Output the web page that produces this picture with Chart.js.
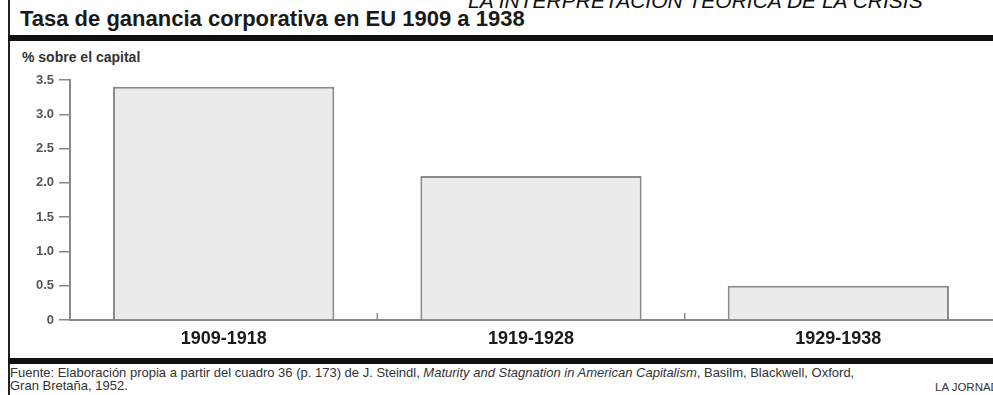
<!DOCTYPE html>
<html>
<head>
<meta charset="utf-8">
<script src="https://cdn.jsdelivr.net/npm/chart.js@4"></script>
<style>
  html, body { margin: 0; padding: 0; background: #fff; }
  #wrap { position: relative; width: 993px; height: 395px; overflow: hidden; background: #fff; font-family: "Liberation Sans", Arial, sans-serif; color: #111; }
  .abs { position: absolute; white-space: nowrap; line-height: 1; }
  #kicker { left: 468px; top: -10px; font-size: 21px; font-style: italic; color: #111; }
  #leftline { left: 8px; top: 0; width: 2px; height: 395px; background: #222; }
  #title { left: 20px; top: 8px; font-size: 22px; font-weight: bold; color: #1a1a1a; }
  #toprule { left: 8px; top: 35px; width: 985px; height: 6px; background: #111; }
  #unit { left: 22px; top: 50px; font-size: 14px; font-weight: bold; color: #333; }
  #chartbox { position: absolute; left: 0; top: 60px; width: 993px; height: 290px; }
  #botrule { left: 8px; top: 358px; width: 985px; height: 6px; background: #111; }
  #source { left: 10px; top: 366px; font-size: 13px; line-height: 13px; color: #333; }
  #brand { left: 935px; top: 382px; font-size: 11.5px; color: #333; }
</style>
</head>
<body>
<div id="wrap">
  <div class="abs" id="kicker">LA INTERPRETACIÓN TEÓRICA DE LA CRISIS</div>
  <div class="abs" id="leftline"></div>
  <div class="abs" id="title">Tasa de ganancia corporativa en EU 1909 a 1938</div>
  <div class="abs" id="toprule"></div>
  <div class="abs" id="unit">% sobre el capital</div>
  <div id="chartbox"><canvas id="chart"></canvas></div>
  <div class="abs" id="botrule"></div>
  <div class="abs" id="source">Fuente: Elaboración propia a partir del cuadro 36 (p. 173) de J. Steindl, <i>Maturity and Stagnation in American Capitalism</i>, Basilm, Blackwell, Oxford,<br>Gran Bretaña, 1952.</div>
  <div class="abs" id="brand">LA JORNADA</div>
</div>
<script>
// values
const periods = ['1909-1918', '1919-1928', '1929-1938'];
const profitRate = [3.4, 2.1, 0.5];
const yMax = 3.5;
const yStep = 0.5;

// little upward ticks on the x axis between the periods
const splitTicks = {
    id: 'splitTicks',
    afterDatasetsDraw(chart) {
        const x = chart.scales.x;
        const ctx = chart.ctx;
        const bottom = chart.chartArea.bottom;
        ctx.save();
        ctx.strokeStyle = '#888';
        ctx.lineWidth = 1.5;
        for (let i = 1; i < periods.length; i++) {
            const px = (x.getPixelForValue(i - 1) + x.getPixelForValue(i)) / 2;
            ctx.beginPath();
            ctx.moveTo(px, bottom);
            ctx.lineTo(px, bottom - 7);
            ctx.stroke();
        }
        ctx.restore();
    }
};

document.addEventListener('DOMContentLoaded', function() {
    const ctx = document.getElementById('chart').getContext('2d');
    new Chart(ctx, {
        type: 'bar',
        data: {
            labels: periods,
            datasets: [{
                data: profitRate,
                backgroundColor: '#ebebeb',
                borderColor: '#8a8a8a',
                borderWidth: 2,
                barPercentage: 0.72,
                categoryPercentage: 1.0
            }]
        },
        options: {
            responsive: true,
            maintainAspectRatio: false,
            animation: false,
            layout: { padding: { top: 20, right: 1, left: 0, bottom: 0 } },
            plugins: {
                legend: { display: false },
                tooltip: { enabled: false }
            },
            scales: {
                x: {
                    afterFit: function(scale) { scale.height = 30; },
                    grid: { display: true, drawOnChartArea: false, drawTicks: false },
                    border: { display: true, color: '#888', width: 2 },
                    ticks: {
                        padding: 8,
                        color: '#1a1a1a',
                        font: { family: 'Liberation Sans', size: 18, weight: 'bold' }
                    }
                },
                y: {
                    min: 0,
                    max: yMax,
                    afterFit: function(scale) { scale.width = 70; },
                    grid: { drawOnChartArea: false, drawTicks: true, tickLength: 11, color: '#888', lineWidth: 1.5 },
                    border: { display: true, color: '#888', width: 2 },
                    ticks: {
                        stepSize: yStep,
                        padding: 5,
                        color: '#555',
                        font: { family: 'Liberation Sans', size: 13, weight: 'bold' },
                        callback: function(v) { return v === 0 ? '0' : v.toFixed(1); }
                    }
                }
            }
        },
        plugins: [splitTicks]
    });
});
</script>
</body>
</html>
